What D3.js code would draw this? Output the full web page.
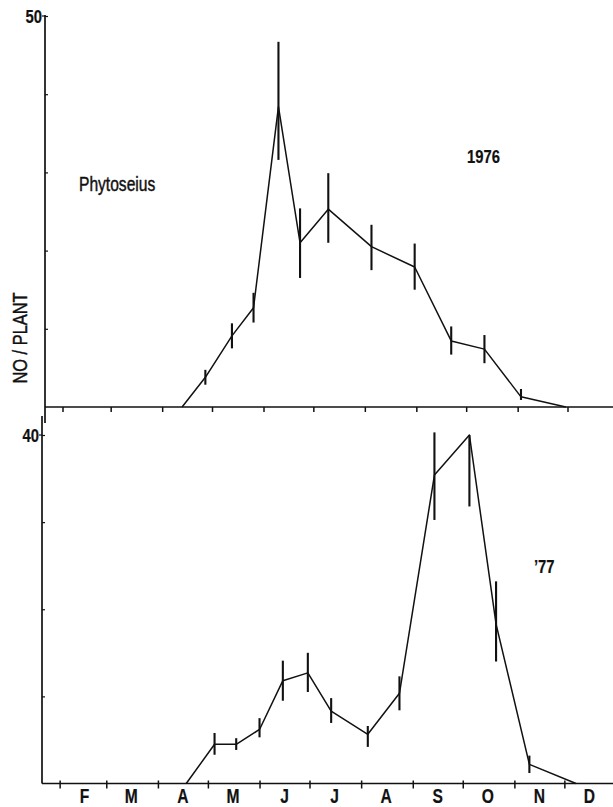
<!DOCTYPE html>
<html>
<head>
<meta charset="utf-8">
<script src="https://cdn.jsdelivr.net/npm/d3@7"></script>
<style>
  body { margin: 0; background: #fff; }
  svg { display: block; }
  text { font-family: "Liberation Sans", Arial, sans-serif; fill: #111; }
</style>
</head>
<body>
<svg id="chart" width="613" height="807"></svg>
<script>
// Month initials under the lower axis (February .. December)
const monthLabels = ["F", "M", "A", "M", "J", "J", "A", "S", "O", "N", "D"];

// Phytoseius, 1976: sample dates, mean number per plant, error-bar ends
const dates1976 = ["1976-04-13", "1976-04-27", "1976-05-13", "1976-05-26", "1976-06-10", "1976-06-23",
                   "1976-07-10", "1976-08-05", "1976-08-31", "1976-09-22", "1976-10-12", "1976-11-03", "1976-11-30"];
const mean1976  = [0, 3.8, 9.1, 12.7, 38.4, 21.0, 25.3, 20.5, 17.9, 8.45, 7.4, 1.3, 0];
const low1976   = [null, 2.85, 7.5, 10.8, 31.6, 16.5, 21.0, 17.5, 15.0, 6.7, 5.6, 0.9, null];
const high1976  = [null, 4.75, 10.7, 14.6, 46.7, 25.4, 29.9, 23.3, 20.9, 10.3, 9.2, 2.3, null];

// Phytoseius, 1977
const dates1977 = ["1977-04-18", "1977-05-05", "1977-05-18", "1977-06-01", "1977-06-15", "1977-06-30",
                   "1977-07-14", "1977-08-05", "1977-08-24", "1977-09-14", "1977-10-05", "1977-10-21",
                   "1977-11-10", "1977-12-08"];
const mean1977  = [0, 4.5, 4.5, 6.2, 11.8, 12.7, 8.3, 5.65, 10.35, 35.4, 40.0, 18.3, 2.2, 0];
const low1977   = [null, 3.3, 3.85, 5.3, 9.5, 10.5, 6.95, 4.2, 8.4, 30.25, 31.8, 14.0, 1.2, null];
const high1977  = [null, 5.8, 5.2, 7.5, 14.1, 15.0, 9.8, 6.6, 12.3, 40.3, 40.0, 23.2, 3.2, null];

// y-axis tick values
const topTicks1976 = [10, 20, 30, 40, 50];
const topTicks1977 = [10, 20, 30, 40];

const svg = d3.select("#chart");
const W = 613;
const ink = "#111";
const NARROW = 0.78;   // horizontal squeeze for the condensed lettering

// condensed text placed at (x, y), optionally rotated
function label(parent, x, y, str, size, opts = {}) {
  const rot = opts.rotate ? ` rotate(${opts.rotate})` : "";
  return parent.append("text")
    .attr("transform", `translate(${x},${y})${rot} scale(${NARROW},1)`)
    .attr("text-anchor", opts.anchor || "start")
    .attr("font-size", size)
    .attr("font-weight", opts.weight || "normal")
    .attr("stroke", ink)
    .attr("stroke-width", opts.weight === "bold" ? 0.2 : 0.45)
    .text(str);
}

const panels = [
  { year: 1976, dates: dates1976, mean: mean1976, low: low1976, high: high1976,
    xShift: 3, axisX: 45, axisTop: 15, base: 407, yTop: 16, yMax: 50,
    ticks: topTicks1976, labelled: 50, tag: "1976", tagX: 467, tagY: 163 },
  { year: 1977, dates: dates1977, mean: mean1977, low: low1977, high: high1977,
    xShift: 0, axisX: 42, axisTop: 416, base: 783.5, yTop: 435, yMax: 40,
    ticks: topTicks1977, labelled: 40, tag: "\u201977", tagX: 534, tagY: 573 }
];

const parse = d3.timeParse("%Y-%m-%d");

panels.forEach((p, pi) => {
  const x = d3.scaleTime()
    .domain([new Date(p.year, 0, 1), new Date(p.year + 1, 0, 1)])
    .range([8 + p.xShift, 616 + p.xShift]);
  const y = d3.scaleLinear().domain([0, p.yMax]).range([p.base, p.yTop]);

  const g = svg.append("g");

  // x axis: month boundaries Feb 1 .. Dec 1
  const monthStarts = d3.range(1, 12).map(m => new Date(p.year, m, 1));
  const xAxis = d3.axisBottom(x)
    .tickValues(monthStarts)
    .tickFormat("")
    .tickSizeInner(5)
    .tickSizeOuter(0);
  const ax = g.append("g")
    .attr("transform", `translate(0,${p.base})`)
    .call(xAxis);
  ax.select(".domain").remove();
  ax.selectAll(".tick line")
    .attr("y1", pi === 0 ? 0 : -3)
    .attr("stroke", ink)
    .attr("stroke-width", 1.5);

  g.append("line")
    .attr("x1", p.axisX).attr("x2", W)
    .attr("y1", p.base).attr("y2", p.base)
    .attr("stroke", ink).attr("stroke-width", 1.7);

  // y axis
  g.append("line")
    .attr("x1", p.axisX).attr("x2", p.axisX)
    .attr("y1", p.axisTop).attr("y2", p.base + (pi === 0 ? 16 : 0))
    .attr("stroke", ink).attr("stroke-width", 1.7);

  const yAxis = d3.axisRight(y)
    .tickValues(p.ticks)
    .tickFormat("")
    .tickSizeInner(3)
    .tickSizeOuter(0);
  const ay = g.append("g")
    .attr("transform", `translate(${p.axisX},0)`)
    .call(yAxis);
  ay.select(".domain").remove();
  ay.selectAll(".tick line").attr("stroke", ink).attr("stroke-width", 1.2);

  g.append("line")
    .attr("x1", p.axisX - 3).attr("x2", p.axisX)
    .attr("y1", y(p.labelled)).attr("y2", y(p.labelled))
    .attr("stroke", ink).attr("stroke-width", 1.2);
  label(g, p.axisX - 3, y(p.labelled) + 7, String(p.labelled), 19, { anchor: "end", weight: "bold" });

  // series
  const rows = p.dates.map((d, i) => ({ date: parse(d), v: p.mean[i], lo: p.low[i], hi: p.high[i] }));

  const line = d3.line().x(d => x(d.date)).y(d => y(d.v));
  g.append("path")
    .datum(rows)
    .attr("d", line)
    .attr("fill", "none")
    .attr("stroke", ink)
    .attr("stroke-width", 1.5)
    .attr("stroke-linejoin", "round");

  g.selectAll("line.err")
    .data(rows.filter(d => d.lo !== null))
    .join("line")
    .attr("class", "err")
    .attr("x1", d => x(d.date)).attr("x2", d => x(d.date))
    .attr("y1", d => y(d.lo)).attr("y2", d => y(d.hi))
    .attr("stroke", ink)
    .attr("stroke-width", 2.1);

  label(g, p.tagX, p.tagY, p.tag, 19, { weight: "bold" });

  if (pi === 1) {
    monthLabels.forEach((m, i) => {
      label(g, x(new Date(p.year, i + 1, 16)), 803, m, 20, { anchor: "middle", weight: "bold" });
    });
  }
});

label(svg, 79, 191, "Phytoseius", 20);
label(svg, 27, 338, "NO / PLANT", 21, { rotate: -90, anchor: "middle" });
</script>
</body>
</html>
